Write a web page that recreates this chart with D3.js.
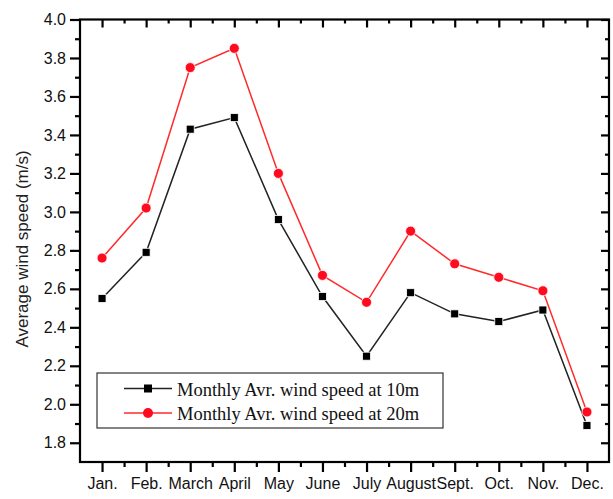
<!DOCTYPE html>
<html><head><meta charset="utf-8">
<script src="https://cdn.jsdelivr.net/npm/d3@7/dist/d3.min.js"></script>
<style>body{margin:0;background:#fff}svg{display:block}</style>
</head><body><svg id="c" width="613" height="499"></svg>
<script>
const months = ["Jan.","Feb.","March","April","May","June","July","August","Sept.","Oct.","Nov.","Dec."];
const speed10 = [2.55,2.79,3.43,3.49,2.96,2.56,2.25,2.58,2.47,2.43,2.49,1.89];
const speed20 = [2.76,3.02,3.75,3.85,3.20,2.67,2.53,2.90,2.73,2.66,2.59,1.96];
const yTicks = [1.8,2.0,2.2,2.4,2.6,2.8,3.0,3.2,3.4,3.6,3.8,4.0];
const seriesNames = ["Monthly Avr. wind speed at 10m","Monthly Avr. wind speed at 20m"];
const yTitle = "Average wind speed (m/s)";

(function(){
const svg = d3.select("#c");
const L=80, R=609, T=19.5, B=462;
const x = d3.scaleLinear().domain([-0.5,11.5]).range([L,R]);
const y = d3.scaleLinear().domain([1.7,4.0]).range([B,T]);
const idx = d3.range(months.length);
const minorX = d3.range(0,11).map(v=>v+0.5);
const minorY = d3.range(0,11).map(v=>+(1.9+v*0.2).toFixed(1));

const tickFont = "Liberation Sans, Arial, sans-serif";
const gBottom = svg.append("g").attr("transform",`translate(0,${B})`)
  .call(d3.axisBottom(x).tickValues(idx).tickFormat(i=>months[i]).tickSize(10).tickPadding(6).tickSizeOuter(0));
gBottom.append("g").call(d3.axisBottom(x).tickValues(minorX).tickFormat("").tickSize(5).tickSizeOuter(0));
const gLeft = svg.append("g").attr("transform",`translate(${L},0)`)
  .call(d3.axisLeft(y).tickValues(yTicks).tickFormat(d3.format(".1f")).tickSize(10).tickPadding(4).tickSizeOuter(0));
gLeft.append("g").call(d3.axisLeft(y).tickValues(minorY).tickFormat("").tickSize(5).tickSizeOuter(0));
const gTop = svg.append("g").attr("transform",`translate(0,${T})`)
  .call(d3.axisBottom(x).tickValues(idx).tickFormat("").tickSize(8).tickSizeOuter(0));
gTop.append("g").call(d3.axisBottom(x).tickValues(minorX).tickFormat("").tickSize(4).tickSizeOuter(0));
const gRight = svg.append("g").attr("transform",`translate(${R},0)`)
  .call(d3.axisLeft(y).tickValues(yTicks).tickFormat("").tickSize(8).tickSizeOuter(0));
gRight.append("g").call(d3.axisLeft(y).tickValues(minorY).tickFormat("").tickSize(4).tickSizeOuter(0));

svg.selectAll(".domain").remove();
svg.selectAll(".tick line").attr("stroke","#000").attr("stroke-width",2.2);
svg.selectAll(".tick text").attr("fill","#111").style("font-family",tickFont).style("font-size","16px");
svg.append("rect").attr("x",L).attr("y",T).attr("width",R-L).attr("height",B-T)
  .attr("fill","none").attr("stroke","#000").attr("stroke-width",2.2);

svg.append("text").attr("transform",`translate(28,249) rotate(-90)`)
  .attr("text-anchor","middle").style("font-family","Liberation Sans, Arial, sans-serif")
  .style("font-size","17px").attr("fill","#222").text(yTitle);

const line = d3.line().x((d,i)=>x(i)).y(d=>y(d));
const colors = ["#000000","#ff0a1e"];
const lineColors = ["#222222","#ff2a2a"];
[speed10,speed20].forEach((s,k)=>{
  svg.append("path").datum(s).attr("d",line).attr("fill","none")
    .attr("stroke",lineColors[k]).attr("stroke-width",1.5);
});
svg.selectAll(".sq").data(speed10).enter().append("rect")
  .attr("x",(d,i)=>x(i)-4).attr("y",d=>y(d)-4).attr("width",8).attr("height",8)
  .attr("fill",colors[0]).attr("stroke","#fff").attr("stroke-width",0.8);
svg.selectAll(".ci").data(speed20).enter().append("circle")
  .attr("cx",(d,i)=>x(i)).attr("cy",d=>y(d)).attr("r",5)
  .attr("fill",colors[1]).attr("stroke","#fff").attr("stroke-width",0.8);

const lg = svg.append("g");
lg.append("rect").attr("x",97).attr("y",373).attr("width",346).attr("height",55)
  .attr("fill","#fff").attr("stroke","#333").attr("stroke-width",1.2);
[388.5,413].forEach((ry,k)=>{
  lg.append("line").attr("x1",124).attr("x2",172).attr("y1",ry).attr("y2",ry)
    .attr("stroke",lineColors[k]).attr("stroke-width",1.5);
  if(k===0) lg.append("rect").attr("x",144).attr("y",ry-4).attr("width",8).attr("height",8).attr("fill",colors[0]);
  else lg.append("circle").attr("cx",148).attr("cy",ry).attr("r",5).attr("fill",colors[1]);
  lg.append("text").attr("x",177).attr("y",ry+7).style("font-family","Liberation Serif, Times New Roman, serif")
    .style("font-size","18.5px").attr("fill","#111").text(seriesNames[k]);
});
})();
</script></body></html>
